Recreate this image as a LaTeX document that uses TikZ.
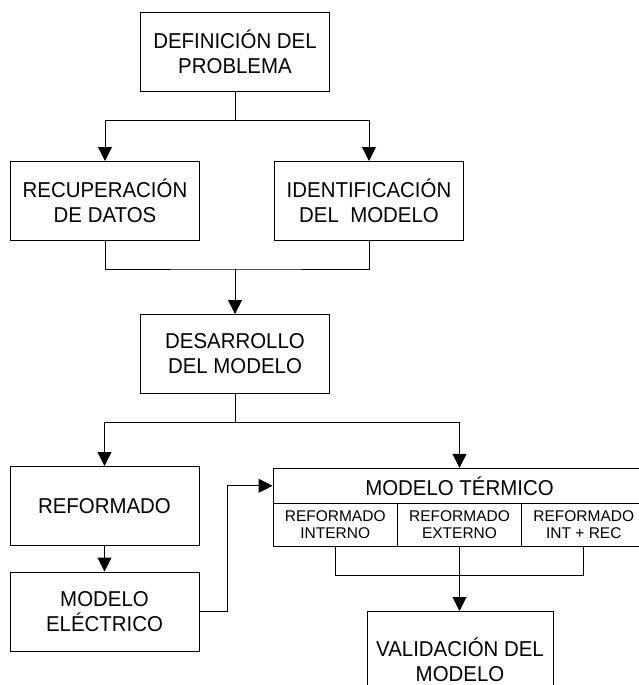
\documentclass[tikz,border=0pt]{standalone}
\usepackage{fontspec}
\setmainfont{Liberation Sans}
\newfontfamily\tallfont[FakeStretch=0.95]{Liberation Sans}
\usetikzlibrary{arrows.meta}
\begin{document}
\begin{tikzpicture}[x=1pt, y=-1pt, line width=1pt,
        blk/.style={draw, minimum width=189pt, minimum height=79pt, inner sep=0pt, align=center, font=\tallfont\fontsize{21.5}{25}\selectfont},
        cell/.style={draw, minimum width=124.3pt, minimum height=43.4pt, inner sep=0pt, align=center, font=\fontsize{15.5}{16.7}\selectfont},
        arr/.style={-{Triangle[length=14pt, width=14pt]}}]
        \useasboundingbox(0, 0)rectangle(639, 685);
        \node[blk](def)at(235, 52){DEFINICIÓN DEL\\PROBLEMA};
        \node[blk](rec)at(105, 201){RECUPERACIÓN\\DE DATOS};
        \node[blk](ide)at(369, 201){IDENTIFICACIÓN\\DEL~~MODELO};
        \node[blk](des)at(235, 354){DESARROLLO\\DEL MODELO};
        \node[blk](ref)at(104.5, 506){REFORMADO};
        \node[blk](ele)at(104.5, 611.5){MODELO\\ELÉCTRICO};
        % bloque termico con sus tres casos
        \node[blk, minimum width=372.9pt, minimum height=35pt](tit)at(459.5, 485.8){MODELO TÉRMICO};
        \node[cell](c1)at(335.2, 525){REFORMADO\\INTERNO};
        \node[cell](c2)at(459.5, 525){REFORMADO\\EXTERNO};
        \node[cell](c3)at(583.8, 525){REFORMADO\\INT + REC};
        \node[blk, minimum width=186pt, minimum height=97pt](val)at(460, 660){VALIDACIÓN DEL\\MODELO};
        \coordinate(b1)at(235, 120);
        \coordinate(j1)at(235, 269);
        \coordinate(b2)at(235, 422);
        \coordinate(j2)at(459.5, 575.7);
        \draw(def)--(b1);
        \draw[arr](b1)-|(rec.north);
        \draw[arr](b1)-|(ide.north);
        \draw(rec.south)|-(j1)-|(ide.south);
        \draw[arr](j1)--(des.north);
        \draw(des)--(b2);
        \draw[arr](b2)-|(ref.north);
        \draw[arr](b2)-|(tit.north);
        \draw[arr](ref)--(ele);
        \draw[arr](ele.east)--++(27.5, 0)|-(tit.west);
        \draw(c1.south)|-(j2)-|(c3.south);
        \draw[arr](c2.south)--(c2.south|-val.north);
    \end{tikzpicture}
\end{document}
